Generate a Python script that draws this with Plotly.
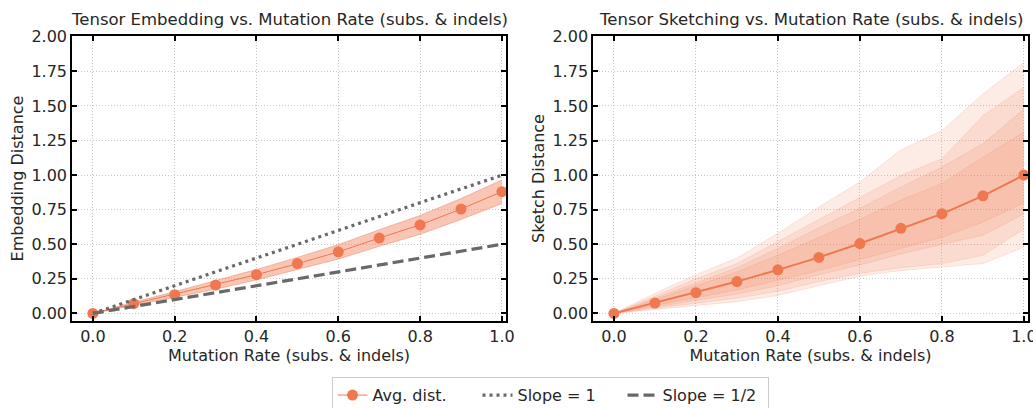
import plotly.graph_objects as go

# ---------------- data ----------------
x_rates = [0.0, 0.1, 0.2, 0.3, 0.4, 0.5, 0.6, 0.7, 0.8, 0.9, 1.0]

# Left panel: tensor embedding
emb_mean = [0.0, 0.07, 0.135, 0.205, 0.28, 0.36, 0.445, 0.545, 0.64, 0.755, 0.88]
emb_lo = [0.0, 0.058, 0.113, 0.175, 0.242, 0.315, 0.393, 0.485, 0.572, 0.679, 0.795]
emb_hi = [0.0, 0.082, 0.157, 0.235, 0.318, 0.405, 0.497, 0.605, 0.708, 0.831, 0.965]

# Right panel: tensor sketching
sk_mean = [0.0, 0.075, 0.15, 0.23, 0.315, 0.405, 0.505, 0.615, 0.72, 0.85, 1.0]
# quantile bands, outermost first
sk_band_lo = [
    [0.0, 0.03, 0.06, 0.085, 0.13, 0.20, 0.27, 0.31, 0.335, 0.36, 0.48],
    [0.0, 0.035, 0.07, 0.11, 0.16, 0.23, 0.29, 0.33, 0.36, 0.42, 0.61],
    [0.0, 0.045, 0.09, 0.14, 0.20, 0.28, 0.35, 0.43, 0.50, 0.565, 0.72],
    [0.0, 0.055, 0.11, 0.17, 0.24, 0.31, 0.39, 0.47, 0.55, 0.66, 0.80],
]
sk_band_hi = [
    [0.0, 0.145, 0.28, 0.40, 0.58, 0.77, 0.95, 1.183, 1.322, 1.587, 1.815],
    [0.0, 0.125, 0.25, 0.36, 0.52, 0.68, 0.84, 0.998, 1.118, 1.43, 1.635],
    [0.0, 0.11, 0.22, 0.33, 0.47, 0.62, 0.76, 0.913, 1.058, 1.226, 1.478],
    [0.0, 0.10, 0.20, 0.30, 0.42, 0.55, 0.68, 0.82, 0.94, 1.13, 1.31],
]

slope1 = [0.0, 1.0]
slope_half = [0.0, 0.5]
slope_x = [0.0, 1.0]

x_ticks = [0.0, 0.2, 0.4, 0.6, 0.8, 1.0]
y_ticks = [0.0, 0.25, 0.5, 0.75, 1.0, 1.25, 1.5, 1.75, 2.0]

titles = ["Tensor Embedding vs. Mutation Rate (subs. & indels)",
          "Tensor Sketching vs. Mutation Rate (subs. & indels)"]
y_titles = ["Embedding Distance", "Sketch Distance"]
x_title = "Mutation Rate (subs. & indels)"

# ---------------- style ----------------
ORANGE = "rgb(240,120,80)"
FONT = "DejaVu Sans"
TXT = "#262626"
TICK_SIZE = 16
LABEL_SIZE = 16
TITLE_SIZE = 16.5

fig = go.Figure()

# Left band
fig.add_trace(go.Scatter(x=x_rates, y=emb_lo, mode="lines",
                         line=dict(color="rgba(240,120,80,0.45)", width=1),
                         showlegend=False, hoverinfo="skip", xaxis="x", yaxis="y"))
fig.add_trace(go.Scatter(x=x_rates, y=emb_hi, mode="lines", fill="tonexty",
                         fillcolor="rgba(240,120,80,0.42)",
                         line=dict(color="rgba(240,120,80,0.45)", width=1),
                         showlegend=False, hoverinfo="skip", xaxis="x", yaxis="y"))
fig.add_trace(go.Scatter(x=x_rates, y=emb_mean, mode="lines+markers", name="Avg. dist.",
                         line=dict(color=ORANGE, width=1),
                         marker=dict(color=ORANGE, size=11),
                         showlegend=True, xaxis="x", yaxis="y"))
fig.add_trace(go.Scatter(x=slope_x, y=slope1, mode="lines", name="Slope = 1",
                         line=dict(color="dimgray", width=3.2, dash="3px,4px"),
                         xaxis="x", yaxis="y"))
fig.add_trace(go.Scatter(x=slope_x, y=slope_half, mode="lines", name="Slope = 1/2",
                         line=dict(color="dimgray", width=3.2, dash="11px,5px"),
                         xaxis="x", yaxis="y"))

# Right bands
for lo, hi in zip(sk_band_lo, sk_band_hi):
    fig.add_trace(go.Scatter(x=x_rates, y=lo, mode="lines",
                             line=dict(color="rgba(240,120,80,0.17)", width=1),
                             showlegend=False, hoverinfo="skip", xaxis="x2", yaxis="y2"))
    fig.add_trace(go.Scatter(x=x_rates, y=hi, mode="lines", fill="tonexty",
                             fillcolor="rgba(240,120,80,0.14)",
                             line=dict(color="rgba(240,120,80,0.17)", width=1),
                             showlegend=False, hoverinfo="skip", xaxis="x2", yaxis="y2"))
fig.add_trace(go.Scatter(x=x_rates, y=sk_mean, mode="lines+markers", name="Avg. dist.",
                         line=dict(color=ORANGE, width=2),
                         marker=dict(color=ORANGE, size=11),
                         showlegend=False, xaxis="x2", yaxis="y2"))

axis_common = dict(
    showline=True, linecolor="black", linewidth=1.5, mirror="allticks",
    ticks="inside", ticklen=5, tickwidth=1.5, tickcolor="black",
    showgrid=True, gridcolor="#c8c8c8", gridwidth=1, griddash="1px,2px",
    zeroline=False, automargin=False, ticklabeloverflow="allow",
    tickfont=dict(family=FONT, size=TICK_SIZE, color=TXT),
)

XR = [-0.051, 1.01]
YR = [-0.055, 2.006]

fig.update_layout(
    width=1033, height=408,
    margin=dict(l=72, r=5, t=36, b=87, autoexpand=False),
    paper_bgcolor="white", plot_bgcolor="white",
    font=dict(family=FONT, size=LABEL_SIZE, color=TXT),
    xaxis=dict(domain=[0.0, 0.454], range=XR, tickvals=x_ticks, tickformat=".1f",
               title=dict(text=x_title, font=dict(family=FONT, size=LABEL_SIZE, color=TXT), standoff=4),
               anchor="y", **axis_common),
    yaxis=dict(domain=[0, 1], range=YR, tickvals=y_ticks, tickformat=".2f",
               title=dict(text=y_titles[0], font=dict(family=FONT, size=LABEL_SIZE, color=TXT), standoff=4),
               anchor="x", **axis_common),
    xaxis2=dict(domain=[0.545, 1.0], range=XR, tickvals=x_ticks, tickformat=".1f",
                title=dict(text=x_title, font=dict(family=FONT, size=LABEL_SIZE, color=TXT), standoff=4),
                anchor="y2", **axis_common),
    yaxis2=dict(domain=[0, 1], range=YR, tickvals=y_ticks, tickformat=".2f",
                title=dict(text=y_titles[1], font=dict(family=FONT, size=LABEL_SIZE, color=TXT), standoff=4),
                anchor="x2", **axis_common),
    legend=dict(orientation="h", x=0.5, xanchor="center", y=-0.197, yanchor="top",
                traceorder="normal", entrywidth=100, entrywidthmode="pixels",
                bordercolor="#cccccc", borderwidth=1, bgcolor="white",
                font=dict(family=FONT, size=LABEL_SIZE, color=TXT), itemwidth=30),
    annotations=[
        dict(text=titles[0], x=0.227, y=1.0, xref="paper", yref="paper",
             xanchor="center", yanchor="bottom", yshift=5, showarrow=False,
             font=dict(family=FONT, size=TITLE_SIZE, color=TXT)),
        dict(text=titles[1], x=0.7725, y=1.0, xref="paper", yref="paper",
             xanchor="center", yanchor="bottom", yshift=5, showarrow=False,
             font=dict(family=FONT, size=TITLE_SIZE, color=TXT)),
    ],
)

fig.write_html("out.html")
